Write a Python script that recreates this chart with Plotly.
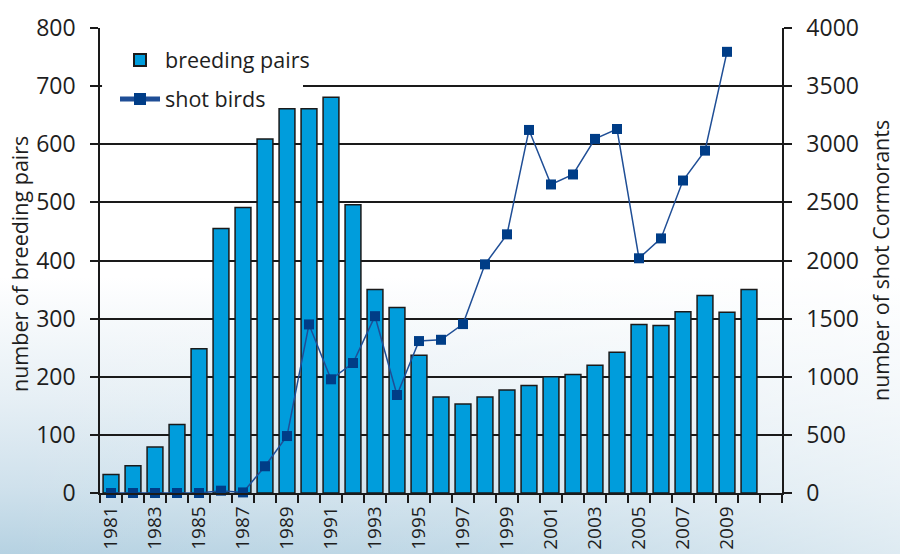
import plotly.graph_objects as go
from urllib.parse import quote

years = list(range(1981, 2011))
breeding_pairs = [32, 47, 79, 118, 248, 455, 491, 609, 661, 661, 681, 496, 350, 319, 237,
                  165, 153, 165, 177, 185, 200, 204, 220, 242, 290, 288, 312, 340, 311, 350]
shot_birds = [0, 0, 0, 0, 0, 20, 5, 230, 490, 1450, 978, 1118, 1521, 843, 1307,
              1318, 1453, 1967, 2225, 3123, 2654, 2740, 3046, 3131, 2019, 2190, 2688, 2945, 3795]
tick_years = list(range(1981, 2010, 2))

L, R, T, B = 100, 118, 28, 61
W, H = 900, 554
pw, ph = W - L - R, H - T - B

svg = ("<svg xmlns='http://www.w3.org/2000/svg' width='900' height='554' preserveAspectRatio='none'>"
       "<defs><linearGradient id='g' x1='0' y1='0' x2='0' y2='1'>"
       "<stop offset='0' stop-color='#ffffff'/><stop offset='0.5' stop-color='#ffffff'/>"
       "<stop offset='0.72' stop-color='#e6eff5'/><stop offset='0.88' stop-color='#cfe1ec'/>"
       "<stop offset='1' stop-color='#b6d2e2'/></linearGradient>"
       "<linearGradient id='h' x1='0' y1='0' x2='1' y2='0'>"
       "<stop offset='0' stop-color='#ffffff' stop-opacity='0'/>"
       "<stop offset='0.5' stop-color='#ffffff' stop-opacity='0.15'/>"
       "<stop offset='1' stop-color='#ffffff' stop-opacity='0.55'/></linearGradient></defs>"
       "<rect width='900' height='554' fill='url(#g)'/><rect width='900' height='554' fill='url(#h)'/></svg>")
bg_src = "data:image/svg+xml;charset=utf-8," + quote(svg)

font = "Open Sans, Noto Sans, sans-serif"
txt = "#1e1e1e"
axc = "#1a1a1a"

fig = go.Figure()
fig.add_trace(go.Bar(
    x=years, y=breeding_pairs, name="breeding pairs", legendgroup="a",
    marker=dict(color="#009ddc", line=dict(color=axc, width=1.5)),
    width=0.72,
))
fig.add_trace(go.Scatter(
    x=years[:len(shot_birds)], y=shot_birds, name="shot birds", yaxis="y2", legendgroup="b",
    mode="lines+markers", cliponaxis=False,
    line=dict(color="#1f4e96", width=1.5),
    marker=dict(symbol="square", size=10, color="#003d87"),
))

fig.update_layout(
    width=W, height=H,
    margin=dict(l=L, r=R, t=T, b=B, pad=0, autoexpand=False),
    paper_bgcolor="rgba(0,0,0,0)", plot_bgcolor="rgba(0,0,0,0)",
    font=dict(family=font, size=22, color=txt),
    showlegend=True,
    legend=dict(x=0.022, y=0.975, xanchor="left", yanchor="top",
                bgcolor="rgba(0,0,0,0)", borderwidth=0,
                font=dict(size=21.5, color=txt),
                itemsizing="constant", tracegroupgap=8, itemwidth=40),
    images=[dict(source=bg_src, xref="paper", yref="paper",
                 x=-L / pw, y=1 + T / ph, sizex=W / pw, sizey=H / ph,
                 xanchor="left", yanchor="top", sizing="stretch", layer="below")],
    shapes=[dict(type="rect", xref="paper", yref="paper", layer="above",
                 x0=0.003, x1=(303 - L) / pw, y0=1 - (102 - T) / ph, y1=0.996,
                 fillcolor="#ffffff", line=dict(width=0))],
    xaxis=dict(
        range=[1980.5, 2011.5], tickmode="array", tickvals=tick_years,
        ticktext=[str(y) for y in tick_years], tickangle=-90,
        ticks="", showgrid=False, zeroline=False, automargin=False,
        showline=True, linecolor=axc, linewidth=1.5,
        tickfont=dict(size=19, color=txt), ticklabelstandoff=4,
        minor=dict(tickmode="linear", tick0=0.5, dtick=1, ticks="outside",
                   ticklen=8, tickwidth=1.5, tickcolor=axc, showgrid=False),
    ),
    yaxis=dict(
        range=[0, 800], dtick=100, tick0=0, automargin=False,
        showgrid=True, gridcolor=axc, gridwidth=1.5,
        zeroline=False, showline=True, linecolor=axc, linewidth=1.5,
        ticks="outside", ticklen=8, tickwidth=1.5, tickcolor=axc,
        tickfont=dict(size=23, color=txt), ticklabelstandoff=10,
    ),
    yaxis2=dict(
        range=[0, 4000], dtick=500, tick0=0, overlaying="y", side="right", automargin=False,
        showgrid=False, zeroline=False, showline=True, linecolor=axc, linewidth=1.5,
        ticks="outside", ticklen=8, tickwidth=1.5, tickcolor=axc,
        tickfont=dict(size=23, color=txt), ticklabelstandoff=10,
    ),
    annotations=[
        dict(text="number of breeding pairs", xref="paper", yref="paper",
             x=-(L - 19) / pw, y=(494 - 265) / ph, xanchor="center", yanchor="middle",
             textangle=-90, showarrow=False, font=dict(size=21.5, color=txt)),
        dict(text="number of shot Cormorants", xref="paper", yref="paper",
             x=1 + (880 - (W - R)) / pw, y=(494 - 262) / ph, xanchor="center", yanchor="middle",
             textangle=-90, showarrow=False, font=dict(size=21.5, color=txt)),
    ],
    bargap=0.28,
)

fig.write_html("out.html", config={"displayModeBar": False},
               post_script="document.body.style.margin='0px';document.body.style.padding='0px';")
